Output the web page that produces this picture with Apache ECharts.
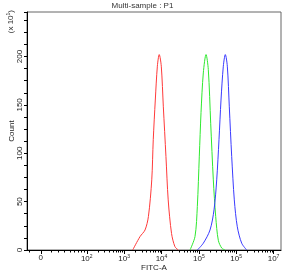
<!DOCTYPE html>
<html><head><meta charset="utf-8">
<script src="https://cdn.jsdelivr.net/npm/echarts@6/dist/echarts.min.js"></script>
<style>html,body{margin:0;padding:0;background:#fff}#c{width:285px;height:275px}</style>
</head><body><div id="c"></div>
<script>
// Data (x = log10 of FITC-A intensity, y = count / 10)
const redX = [3.23, 3.425, 3.56, 3.65, 3.74, 3.78, 3.835, 3.89, 3.94, 3.995, 4.05, 4.12, 4.18, 4.27, 4.36, 4.45];
const redY = [0, 13.8, 20.7, 34.5, 72.5, 114, 155, 190, 202, 190, 148, 96.7, 51.8, 17, 3.5, 0];
const greenX = [4.764, 4.898, 4.96, 5.013, 5.059, 5.12, 5.193, 5.254, 5.318, 5.388, 5.452, 5.522, 5.613, 5.70];
const greenY = [0, 14, 45, 97, 142, 183, 202, 186.5, 131, 72.5, 34.5, 10, 2, 0];
const blueX = [4.96, 5.12, 5.30, 5.407, 5.479, 5.54, 5.594, 5.656, 5.709, 5.763, 5.816, 5.88, 5.95, 6.03, 6.148, 6.282];
const blueY = [0, 7, 20.7, 41.5, 72.5, 114, 155, 190, 202, 190, 148, 96.7, 51.8, 24, 7, 0];

const xMajorTicks = [0.77, 2, 3, 4, 5, 6, 7];
const xTickLabels = ['0', '10{s|2}', '10{s|3}', '10{s|4}', '10{s|5}', '10{s|5}', '10{s|7}'];
const xMinorTicks = [0.45, 1.043, 1.238, 1.399, 1.551, 1.666, 1.773, 1.865, 1.934,
  2.301, 2.477, 2.602, 2.699, 2.778, 2.845, 2.903, 2.954,
  3.301, 3.477, 3.602, 3.699, 3.778, 3.845, 3.903, 3.954,
  4.301, 4.477, 4.602, 4.699, 4.778, 4.845, 4.903, 4.954,
  5.301, 5.477, 5.602, 5.699, 5.778, 5.845, 5.903, 5.954,
  6.301, 6.477, 6.602, 6.699, 6.778, 6.845, 6.903, 6.954];

const zip = (xs, ys) => xs.map((x, i) => [x, ys[i]]);
const FONT = 'Liberation Sans';

const chart = echarts.init(document.getElementById('c'), null, {renderer: 'canvas'});
chart.setOption({
  animation: false,
  textStyle: {fontFamily: FONT},
  title: {text: 'Multi-sample : P1', left: 'center', top: 2, padding: 0,
    textStyle: {fontSize: 8, fontWeight: 'normal', color: '#333', fontFamily: FONT}},
  grid: {left: 27, right: 4, top: 12, bottom: 25, show: true, borderColor: '#666', borderWidth: 1,
    containLabel: false, outerBoundsMode: 'none'},
  graphic: [{type: 'text', left: 6, top: 10, rotation: Math.PI / 2,
    style: {text: '(x 10{s|1})', fontSize: 8, fill: '#333', fontFamily: FONT,
      rich: {s: {fontSize: 5, padding: [0, 0, 4, 0], fill: '#333'}}}}],
  xAxis: [{
    type: 'value', min: 0.4, max: 7.2, position: 'bottom',
    name: 'FITC-A', nameLocation: 'middle', nameGap: 14, nameMoveOverlap: false,
    nameTextStyle: {fontSize: 8, color: '#222', fontFamily: FONT},
    axisLine: {show: true, onZero: false, lineStyle: {color: '#000', width: 1}},
    axisTick: {show: true, customValues: xMajorTicks, length: 4, inside: false, lineStyle: {color: '#000'}},
    axisLabel: {show: true, customValues: xMajorTicks, margin: 4, fontSize: 8, color: '#222', fontFamily: FONT,
      formatter: v => { const i = xMajorTicks.indexOf(v); return i >= 0 ? xTickLabels[i] : ''; },
      rich: {s: {fontSize: 5, padding: [0, 0, 5, 0], color: '#222'}}},
    splitLine: {show: false}
  }, {
    type: 'value', min: 0.4, max: 7.2, position: 'bottom',
    axisLine: {show: false, onZero: false},
    axisTick: {show: true, customValues: xMinorTicks, length: 2.5, inside: false, lineStyle: {color: '#000'}},
    axisLabel: {show: false}, splitLine: {show: false}
  }],
  yAxis: {
    type: 'value', min: 0, max: 246, interval: 12.5,
    name: 'Count', nameLocation: 'middle', nameGap: 11, nameRotate: 90, nameMoveOverlap: false,
    nameTextStyle: {fontSize: 8, color: '#222', fontFamily: FONT},
    axisLine: {show: true, lineStyle: {color: '#000'}},
    axisTick: {show: true, length: 3, lineStyle: {color: '#000'}},
    axisLabel: {show: true, interval: 0, rotate: 90, margin: 3, fontSize: 8, color: '#222', fontFamily: FONT,
      formatter: v => (v % 50 === 0 ? String(v) : '')},
    splitLine: {show: false}
  },
  series: [
    {type: 'line', data: zip(redX, redY), showSymbol: false, smooth: 0.3, lineStyle: {color: '#ff3a3a', width: 1}},
    {type: 'line', data: zip(greenX, greenY), showSymbol: false, smooth: 0.3, lineStyle: {color: '#2ee82e', width: 1}},
    {type: 'line', data: zip(blueX, blueY), showSymbol: false, smooth: 0.3, lineStyle: {color: '#3a3aff', width: 1}}
  ]
});
</script></body></html>
